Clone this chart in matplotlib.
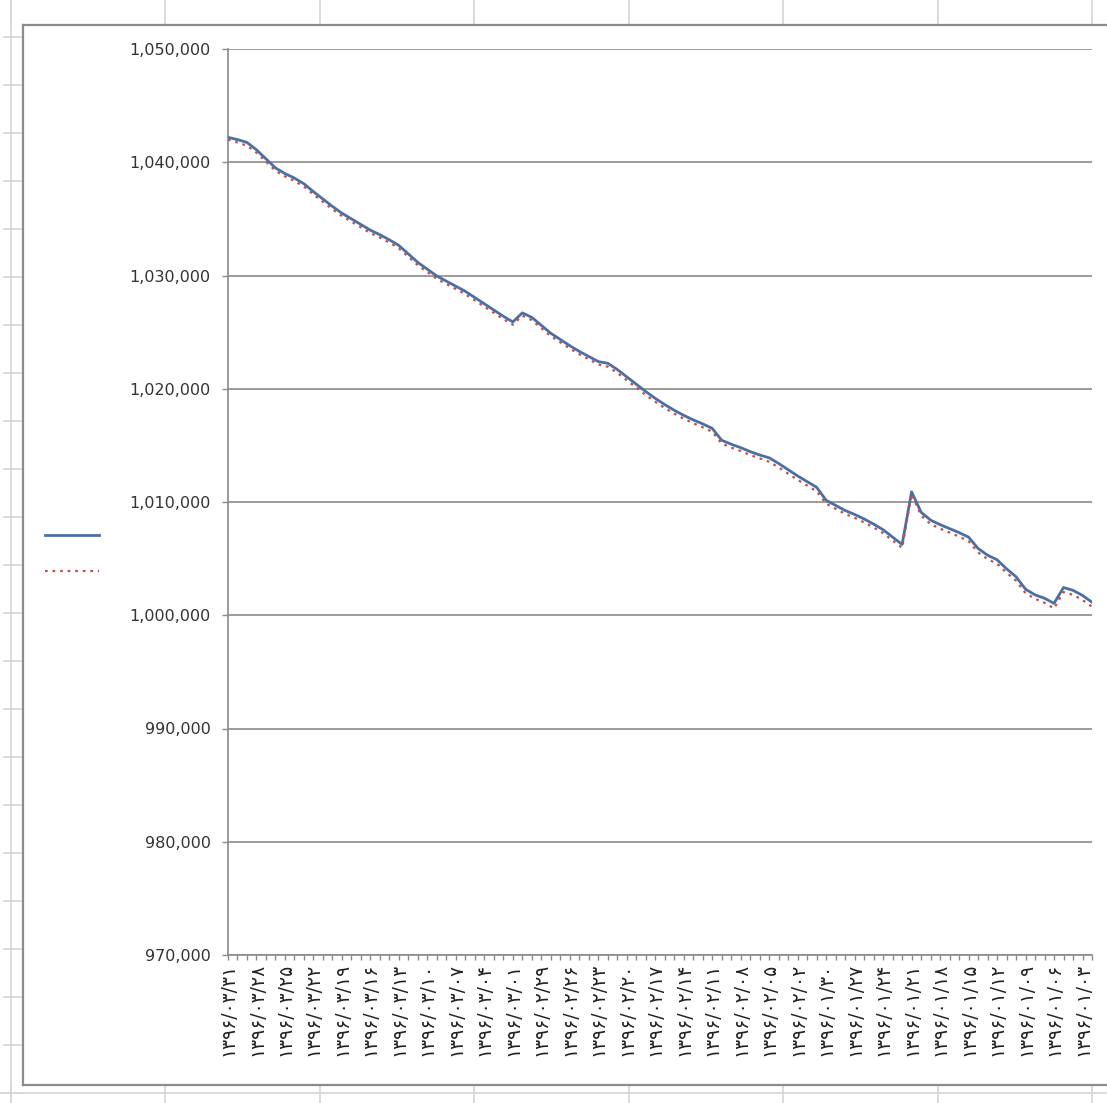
import numpy as np
import matplotlib.pyplot as plt
from matplotlib.lines import Line2D
from matplotlib.ticker import FuncFormatter

#%% data (newest day first)
dates = ['۱۳۹۶/۰۳/۳۱', '۱۳۹۶/۰۳/۲۸', '۱۳۹۶/۰۳/۲۵', '۱۳۹۶/۰۳/۲۲', '۱۳۹۶/۰۳/۱۹',
         '۱۳۹۶/۰۳/۱۶', '۱۳۹۶/۰۳/۱۳', '۱۳۹۶/۰۳/۱۰', '۱۳۹۶/۰۳/۰۷', '۱۳۹۶/۰۳/۰۴',
         '۱۳۹۶/۰۳/۰۱', '۱۳۹۶/۰۲/۲۹', '۱۳۹۶/۰۲/۲۶', '۱۳۹۶/۰۲/۲۳', '۱۳۹۶/۰۲/۲۰',
         '۱۳۹۶/۰۲/۱۷', '۱۳۹۶/۰۲/۱۴', '۱۳۹۶/۰۲/۱۱', '۱۳۹۶/۰۲/۰۸', '۱۳۹۶/۰۲/۰۵',
         '۱۳۹۶/۰۲/۰۲', '۱۳۹۶/۰۱/۳۰', '۱۳۹۶/۰۱/۲۷', '۱۳۹۶/۰۱/۲۴', '۱۳۹۶/۰۱/۲۱',
         '۱۳۹۶/۰۱/۱۸', '۱۳۹۶/۰۱/۱۵', '۱۳۹۶/۰۱/۱۲', '۱۳۹۶/۰۱/۰۹', '۱۳۹۶/۰۱/۰۶',
         '۱۳۹۶/۰۱/۰۳']

series_a = [1042200, 1042000, 1041750, 1041100, 1040300, 1039500, 1039000, 1038600,
            1038100, 1037400, 1036750, 1036100, 1035500, 1035000, 1034500, 1034000,
            1033600, 1033150, 1032650, 1031900, 1031150, 1030550, 1029950, 1029500,
            1029050, 1028600, 1028050, 1027500, 1026950, 1026400, 1025900, 1026700,
            1026300, 1025600, 1024900, 1024350, 1023800, 1023300, 1022850, 1022400,
            1022250, 1021700, 1021050, 1020400, 1019750, 1019150, 1018600, 1018100,
            1017650, 1017250, 1016900, 1016500, 1015450, 1015100, 1014800, 1014450,
            1014150, 1013900, 1013400, 1012850, 1012300, 1011800, 1011300, 1010150,
            1009700, 1009250, 1008900, 1008500, 1008050, 1007550, 1006900, 1006250,
            1010900, 1009100, 1008400, 1008000, 1007650, 1007300, 1006900, 1005900,
            1005300, 1004900, 1004100, 1003400, 1002300, 1001800, 1001500, 1001050,
            1002450, 1002200, 1001750, 1001150]

series_b = [1042000, 1041750, 1041450, 1040850, 1040050, 1039250, 1038750, 1038350,
            1037850, 1037150, 1036500, 1035850, 1035250, 1034750, 1034250, 1033750,
            1033350, 1032900, 1032400, 1031650, 1030900, 1030300, 1029700, 1029250,
            1028800, 1028350, 1027800, 1027250, 1026700, 1026150, 1025650, 1026450,
            1026050, 1025350, 1024650, 1024100, 1023550, 1023050, 1022600, 1022150,
            1021950, 1021400, 1020750, 1020100, 1019450, 1018850, 1018300, 1017800,
            1017350, 1016950, 1016600, 1016200, 1015150, 1014800, 1014500, 1014150,
            1013850, 1013550, 1013050, 1012500, 1011950, 1011450, 1010950, 1009850,
            1009400, 1008950, 1008600, 1008200, 1007750, 1007250, 1006600, 1005950,
            1010700, 1008800, 1008050, 1007650, 1007300, 1006950, 1006550, 1005550,
            1004950, 1004550, 1003750, 1003050, 1001950, 1001450, 1001100, 1000600,
            1002050, 1001800, 1001350, 1000750]

W, H = 1107, 1103
def fx(x):
    return x / W
def fy(y):
    return 1 - y / H

#%% figure + the spreadsheet behind the chart
fig = plt.figure(figsize=(W / 100, H / 100), dpi=100)
fig.patch.set_facecolor('white')

cell = '#d6d6d6'
for y in range(37, 1100, 48):
    fig.add_artist(Line2D([fx(4), fx(23)], [fy(y), fy(y)], color=cell, lw=1.2))
fig.add_artist(Line2D([0, 1], [fy(1093), fy(1093)], color=cell, lw=1.2))
for x in [11, 165, 320, 474, 629, 783, 938, 1092]:
    fig.add_artist(Line2D([fx(x), fx(x)], [fy(0), fy(25)], color=cell, lw=1.2))
    fig.add_artist(Line2D([fx(x), fx(x)], [fy(1085), fy(1103)], color=cell, lw=1.2))
fig.add_artist(Line2D([fx(11), fx(11)], [fy(0), fy(1103)], color=cell, lw=1.2))

# chart area border
border = '#8c8c8c'
fig.add_artist(Line2D([fx(23), fx(1107)], [fy(25), fy(25)], color=border, lw=1.6))
fig.add_artist(Line2D([fx(23), fx(23)], [fy(25), fy(1085)], color=border, lw=1.6))
fig.add_artist(Line2D([fx(23), fx(1107)], [fy(1085), fy(1085)], color=border, lw=1.6))

#%% plot area
ax = fig.add_axes([fx(228), fy(955), fx(1092) - fx(228), fy(49) - fy(955)])
x = np.arange(len(series_a))
la, = ax.plot(x, series_a, color='#4b6fa3', lw=2.0, zorder=3)
lb, = ax.plot(x, series_b, color='#c0504d', lw=1.6, ls=(0, (1.2, 2.2)), zorder=4)

ax.set_xlim(0, len(series_a) - 1)
ax.set_ylim(970000, 1050000)
ax.set_yticks(np.arange(970000, 1050001, 10000))
ax.yaxis.set_major_formatter(FuncFormatter(lambda v, p: f'{v:,.0f}'))
ax.grid(True, axis='y', color='#8a8a8a', lw=1.2)
ax.set_axisbelow(True)

ax.set_xticks(np.arange(0, len(series_a), 3))
ax.set_xticklabels(dates, rotation=90, fontsize=13.5, family=['DejaVu Sans'])
ax.set_xticks(x, minor=True)

for s in ['top', 'right']:
    ax.spines[s].set_visible(False)
ax.spines['left'].set_color('#8a8a8a')
ax.spines['bottom'].set_color('#8a8a8a')
ax.spines['left'].set_linewidth(1.2)
ax.spines['bottom'].set_linewidth(1.2)

ax.tick_params(axis='y', length=4.5, width=1.0, color='#8a8a8a', pad=8,
               labelsize=11.5, labelcolor='#333333')
ax.tick_params(axis='x', which='both', length=3.5, width=1.0, color='#8a8a8a',
               pad=2, labelcolor='#222222')

# legend without entry texts (as in the original sheet)
fig.legend([la, lb], ['', ''], loc='center left', bbox_to_anchor=(fx(45), fy(554)),
           frameon=False, handlelength=3.9, handletextpad=0, borderpad=0,
           borderaxespad=0, labelspacing=1.6, fontsize=10)

plt.savefig('out.png', dpi=100)
